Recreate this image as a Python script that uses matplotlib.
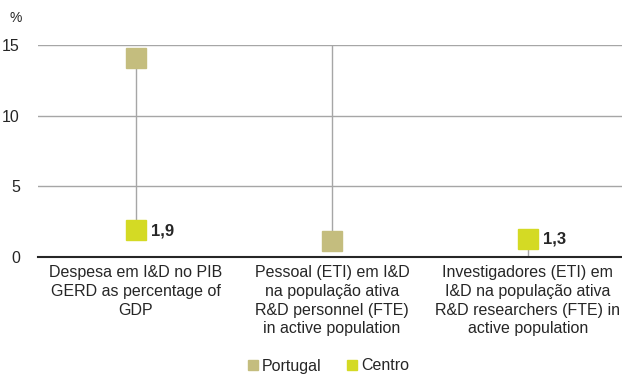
import matplotlib.pyplot as plt
import numpy as np

plt.rcParams['font.family'] = ['Liberation Sans', 'DejaVu Sans']

categories = ["Despesa em I&D no PIB\nGERD as percentage of\nGDP",
              "Pessoal (ETI) em I&D\nna população ativa\nR&D personnel (FTE)\nin active population",
              "Investigadores (ETI) em\nI&D na população ativa\nR&D researchers (FTE) in\nactive population"]
# values as plotted in the source (some fall outside the 0-15 axis and are clipped)
portugal = [14.1, 1.1, -1.0]
centro = [1.9, 16.0, 1.3]
centro_labels = ["1,9", "", "1,3"]

c_pt = "#c4bd7e"
c_ce = "#d4da24"

fig = plt.figure(figsize=(6.22, 3.74), dpi=100)
ax = fig.add_axes([38 / 622, 1 - 257 / 374, 584 / 622, 212 / 374])

x = np.arange(len(categories))
lo = np.minimum(portugal, centro)
hi = np.maximum(portugal, centro)
ax.vlines(x, lo, hi, color="#a6a6a6", lw=1, zorder=2)

ax.plot(x, portugal, "s", ms=14.5, color=c_pt, label="Portugal", zorder=3)
ax.plot(x, centro, "s", ms=14.5, color=c_ce, label="Centro", zorder=3)

for xi, v, t in zip(x, centro, centro_labels):
    if t:
        ax.annotate(t, (xi, v), xytext=(11, -0.5), textcoords="offset points",
                    va="center", ha="left", fontsize=12, fontweight="bold", color="#262626")

ax.set_ylim(0, 15)
ax.set_xlim(-0.5, 2.48)
ax.set_yticks([0, 5, 10, 15])
ax.yaxis.grid(True, color="#a6a6a6", lw=1)
ax.set_axisbelow(True)
for s in ["left", "right", "top"]:
    ax.spines[s].set_visible(False)
ax.spines["bottom"].set_color("#262626")
ax.spines["bottom"].set_linewidth(1.5)
ax.spines["bottom"].set_zorder(4)
ax.set_xticks(x)
ax.set_xticklabels(categories, fontsize=11.5, color="#262626", linespacing=1.3)
ax.tick_params(axis="x", length=0, pad=6)
ax.tick_params(axis="y", length=0, pad=13, labelsize=11.5, labelcolor="#262626")

fig.text(10 / 622, 1 - 18 / 374, "%", fontsize=10, color="#262626", va="center")

fig.legend(loc="center", bbox_to_anchor=(328 / 622, 1 - 366 / 374), ncol=2, frameon=False,
           fontsize=11.5, markerscale=0.5, handlelength=0.7, handletextpad=0.2,
           columnspacing=1.6, labelcolor="#262626")

fig.savefig("out.png", dpi=100)
